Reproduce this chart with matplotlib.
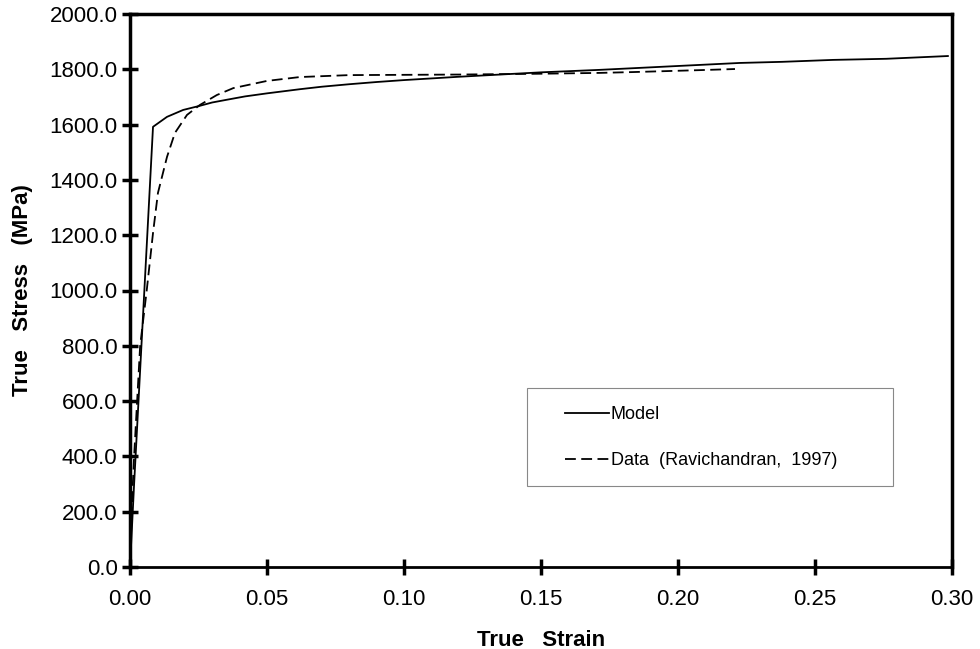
import matplotlib.pyplot as plt
from matplotlib.patches import Rectangle

# Model curve (true strain, true stress MPa)
modelStrain = [0.0, 0.0015, 0.0084, 0.0135, 0.0194, 0.0255, 0.0300, 0.0354, 0.0420, 0.0500, 0.0620,
               0.0700, 0.0800, 0.0900, 0.1000, 0.1200, 0.1500, 0.1715, 0.2000, 0.2226, 0.2380,
               0.2566, 0.2760, 0.2985]
modelStress = [0.0, 300, 1592, 1628, 1653, 1668, 1680, 1690, 1702, 1713, 1728,
               1737, 1746, 1754, 1761, 1773, 1789, 1798, 1812, 1823, 1827,
               1834, 1838, 1848]

# Experimental data (Ravichandran, 1997)
dataStrain = [0.0, 0.0008, 0.0015, 0.0026, 0.0037, 0.0061, 0.0084, 0.0102, 0.0135,
              0.0164, 0.0208, 0.0255, 0.0317, 0.0377, 0.0500, 0.0620, 0.0800,
              0.1000, 0.1200, 0.1500, 0.1715, 0.1836, 0.2080, 0.2208]
dataStress = [0.0, 250, 400, 600, 800, 1000, 1208, 1353, 1483,
              1570, 1635, 1671, 1707, 1732, 1758, 1772, 1779,
              1780, 1781, 1784, 1787, 1790, 1797, 1801]

xTicks = [0.0, 0.05, 0.10, 0.15, 0.20, 0.25, 0.30]
yTicks = [0, 200, 400, 600, 800, 1000, 1200, 1400, 1600, 1800, 2000]

plt.rcParams['font.family'] = ['Liberation Sans', 'DejaVu Sans']

fig = plt.figure(figsize=(9.8, 6.49), dpi=100)
ax = fig.add_axes([130 / 980, 1 - 567 / 649, 822 / 980, 553 / 649])

ax.plot(modelStrain, modelStress, color='black', linewidth=1.3, label='Model')
ax.plot(dataStrain, dataStress, color='black', linewidth=1.3, linestyle=(0, (6, 3)),
        label='Data  (Ravichandran,  1997)')

ax.set_xlim(0, 0.30)
ax.set_ylim(0, 2000)
ax.set_xticks(xTicks)
ax.set_yticks(yTicks)
ax.set_xticklabels(['%.2f' % v for v in xTicks])
ax.set_yticklabels(['%.1f' % v for v in yTicks])
ax.tick_params(direction='inout', length=12, width=2.5, labelsize=16, pad=3)
ax.tick_params(axis='x', pad=10)

for side in ['left', 'top', 'right']:
    ax.spines[side].set_linewidth(2.5)
ax.spines['bottom'].set_linewidth(2.0)

ax.set_xlabel('True   Strain', fontsize=16, fontweight='bold', labelpad=14)
ax.set_ylabel('True   Stress   (MPa)', fontsize=16, fontweight='bold', labelpad=12)

# Legend inside a thin gray box
ax.add_patch(Rectangle((0.483, 0.1465), 0.445, 0.1775, transform=ax.transAxes,
                       fill=False, edgecolor='#888888', linewidth=0.8))
ax.legend(loc='upper left', bbox_to_anchor=(0.51, 0.32), frameon=False, fontsize=13,
          handlelength=2.4, handletextpad=0.1, labelspacing=1.6)

fig.savefig('out.png', dpi=100)
